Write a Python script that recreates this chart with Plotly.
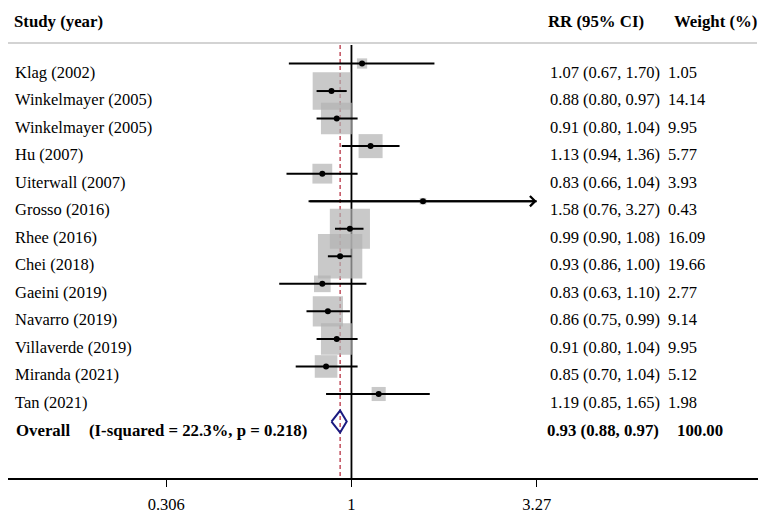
import numpy as np
import plotly.graph_objects as go

studies = ["Klag (2002)", "Winkelmayer (2005)", "Winkelmayer (2005)", "Hu (2007)",
           "Uiterwall (2007)", "Grosso (2016)", "Rhee (2016)", "Chei (2018)",
           "Gaeini (2019)", "Navarro (2019)", "Villaverde (2019)", "Miranda (2021)",
           "Tan (2021)"]
rr = [1.07, 0.88, 0.91, 1.13, 0.83, 1.58, 0.99, 0.93, 0.83, 0.86, 0.91, 0.85, 1.19]
ci_lo = [0.67, 0.80, 0.80, 0.94, 0.66, 0.76, 0.90, 0.86, 0.63, 0.75, 0.80, 0.70, 0.85]
ci_hi = [1.70, 0.97, 1.04, 1.36, 1.04, 3.27, 1.08, 1.00, 1.10, 0.99, 1.04, 1.04, 1.65]
weights = [1.05, 14.14, 9.95, 5.77, 3.93, 0.43, 16.09, 19.66, 2.77, 9.14, 9.95, 5.12, 1.98]
rr_text = ["1.07 (0.67, 1.70)", "0.88 (0.80, 0.97)", "0.91 (0.80, 1.04)", "1.13 (0.94, 1.36)",
           "0.83 (0.66, 1.04)", "1.58 (0.76, 3.27)", "0.99 (0.90, 1.08)", "0.93 (0.86, 1.00)",
           "0.83 (0.63, 1.10)", "0.86 (0.75, 0.99)", "0.91 (0.80, 1.04)", "0.85 (0.70, 1.04)",
           "1.19 (0.85, 1.65)"]
weight_text = ["1.05", "14.14", "9.95", "5.77", "3.93", "0.43", "16.09", "19.66",
               "2.77", "9.14", "9.95", "5.12", "1.98"]
overall_rr, overall_lo, overall_hi = 0.93, 0.88, 0.97
overall_label = "Overall"
overall_het = "(I-squared = 22.3%, p = 0.218)"
overall_rr_text = "0.93 (0.88, 0.97)"
overall_weight_text = "100.00"
clip_max = 3.27
tick_vals = [0.306, 1, 3.27]
tick_text = ["0.306", "1", "3.27"]

FONT = "Liberation Serif"
FS = 16.5
FSB = 16.8
BOX_K = 10.0
OFF = 8  # page body margin
n = len(studies)
rows = list(range(n))
overall_row = n
y_bottom = 15.05
y_top = -2.015
line_top = -0.672

def px(p):
    return (p - OFF) / 757.0

fig = go.Figure()

fig.add_trace(go.Scatter(x=[1, 1], y=[line_top, y_bottom], mode="lines",
                         line=dict(color="black", width=1.8), hoverinfo="skip", cliponaxis=False))
fig.add_trace(go.Scatter(x=[overall_rr, overall_rr], y=[line_top, y_bottom], mode="lines",
                         line=dict(color="#b22234", width=1.2, dash="4px,3px"), hoverinfo="skip"))

fig.add_trace(go.Scatter(x=rr, y=rows, mode="markers",
                         marker=dict(symbol="square", size=[BOX_K * np.sqrt(w) for w in weights],
                                     color="#b2b2b2", line=dict(width=0)), hoverinfo="skip"))

xs, ys = [], []
for i in range(n):
    xs += [ci_lo[i], min(ci_hi[i], clip_max), None]
    ys += [rows[i], rows[i], None]
fig.add_trace(go.Scatter(x=xs, y=ys, mode="lines", line=dict(color="black", width=2),
                         hoverinfo="skip"))

fig.add_trace(go.Scatter(x=rr, y=rows, mode="markers",
                         marker=dict(symbol="circle", size=6, color="black"), hoverinfo="skip"))

h = 0.4
fig.add_trace(go.Scatter(x=[overall_lo, overall_rr, overall_hi, overall_rr, overall_lo],
                         y=[overall_row, overall_row - h, overall_row, overall_row + h, overall_row],
                         mode="lines", line=dict(color="#1a1a80", width=2), hoverinfo="skip"))

annotations = []
for i in range(n):
    if ci_hi[i] >= clip_max:
        annotations.append(dict(x=np.log10(clip_max), y=rows[i], ax=np.log10(ci_lo[i]), ay=rows[i],
                                xref="x", yref="y", axref="x", ayref="y", text="",
                                showarrow=True, arrowhead=4, arrowsize=1, arrowwidth=2,
                                arrowcolor="black"))

font_n = dict(family=FONT, size=FS, color="black")
font_b = dict(family=FONT, size=FSB, color="black")
hdr_y = -1.507
annotations += [
    dict(x=px(12), y=hdr_y, xref="paper", yref="y", text="<b>Study (year)</b>", showarrow=False,
         xanchor="left", yanchor="middle", font=font_b),
    dict(x=px(546), y=hdr_y, xref="paper", yref="y", text="<b>RR (95% CI)</b>", showarrow=False,
         xanchor="left", yanchor="middle", font=font_b),
    dict(x=px(672), y=hdr_y, xref="paper", yref="y", text="<b>Weight (%)</b>", showarrow=False,
         xanchor="left", yanchor="middle", font=font_b),
]
for i in range(n):
    for xp, t in [(13, studies[i]), (548, rr_text[i]), (666, weight_text[i])]:
        annotations.append(dict(x=px(xp), y=rows[i], yshift=-8.5, xref="paper", yref="y", text=t,
                                showarrow=False, xanchor="left", yanchor="middle", font=font_n))
for xp, t in [(14, overall_label), (87, overall_het), (545, overall_rr_text), (675, overall_weight_text)]:
    annotations.append(dict(x=px(xp), y=overall_row, yshift=-8.5, xref="paper", yref="y",
                            text="<b>" + t + "</b>", showarrow=False, xanchor="left",
                            yanchor="middle", font=font_b))

shapes = [dict(type="line", xref="paper", yref="y", x0=0, x1=px(757), y0=-0.744, y1=-0.744,
               line=dict(color="#c4c4c4", width=1.5))]

fig.update_layout(
    width=758, height=510,
    margin=dict(l=0, r=1, t=0, b=40),
    paper_bgcolor="white", plot_bgcolor="white",
    showlegend=False,
    annotations=annotations, shapes=shapes,
    xaxis=dict(type="log", range=[-0.954, 1.1486], tickvals=tick_vals, ticktext=tick_text,
               ticks="outside", ticklen=7, tickwidth=1, tickcolor="black",
               showline=True, linecolor="black", linewidth=2, showgrid=False, zeroline=False,
               ticklabelstandoff=3,
               tickfont=dict(family=FONT, size=FS, color="black"), fixedrange=True),
    yaxis=dict(range=[y_bottom, y_top], visible=False, showgrid=False, zeroline=False,
               fixedrange=True),
)

fig.write_html("out.html")
